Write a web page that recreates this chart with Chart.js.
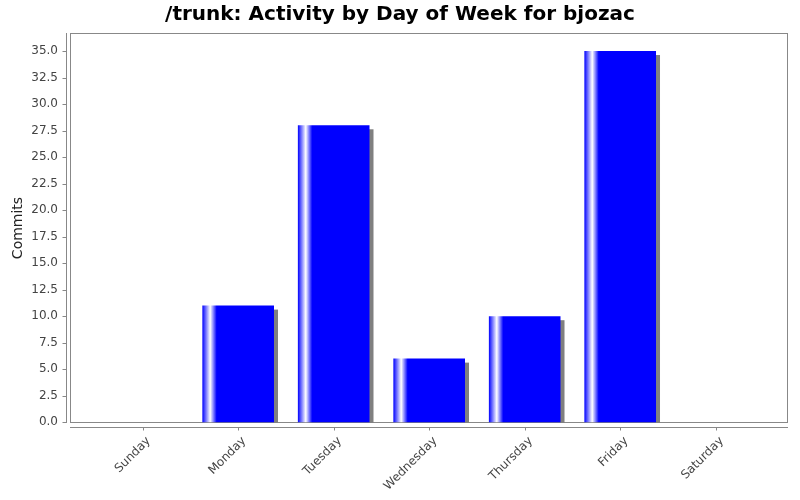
<!DOCTYPE html>
<html>
<head>
<meta charset="utf-8">
<script src="https://cdn.jsdelivr.net/npm/chart.js@4"></script>
<style>
body { margin: 0; background: #fff; }
</style>
</head>
<body>
<canvas id="dayGraph" width="800" height="500"></canvas>
<script>
let days = ['Sunday', 'Monday', 'Tuesday', 'Wednesday', 'Thursday', 'Friday', 'Saturday'];
let commits = [0, 11, 28, 6, 10, 35, 0];
let yTicks = [0, 2.5, 5, 7.5, 10, 12.5, 15, 17.5, 20, 22.5, 25, 27.5, 30, 32.5, 35];

const barPct = 0.75;
const lineColor = '#888888';

// plot frame, bar shadows and offset axis lines (jfreechart look)
const plotFrame = {
    id: 'plotFrame',
    beforeDatasetsDraw(chart) {
        const {ctx, chartArea: a} = chart;
        ctx.save();
        ctx.strokeStyle = lineColor;
        ctx.lineWidth = 1;
        ctx.strokeRect(a.left + 0.5, a.top + 0.5, a.right - a.left - 1, a.bottom - a.top - 1);
        ctx.beginPath();
        ctx.rect(a.left, a.top, a.right - a.left, a.bottom - a.top);
        ctx.clip();
        ctx.fillStyle = '#808080';
        chart.getDatasetMeta(0).data.forEach(bar => {
            if (bar.base - bar.y < 1) return;
            ctx.fillRect(bar.x - bar.width / 2 + 4, bar.y + 4, bar.width, bar.base - bar.y);
        });
        ctx.restore();
    },
    afterDraw(chart) {
        const {ctx, chartArea: a, scales} = chart;
        ctx.save();
        ctx.strokeStyle = lineColor;
        ctx.lineWidth = 1;
        ctx.beginPath();
        // y axis
        const ax = a.left - 3.5;
        ctx.moveTo(ax, a.top);
        ctx.lineTo(ax, a.bottom);
        yTicks.forEach(v => {
            const py = Math.round(scales.y.getPixelForValue(v)) + 0.5;
            ctx.moveTo(ax - 4, py);
            ctx.lineTo(ax, py);
        });
        // x axis
        const ay = a.bottom + 4.5;
        ctx.moveTo(a.left, ay);
        ctx.lineTo(a.right, ay);
        days.forEach((d, i) => {
            const px = Math.round(scales.x.getPixelForValue(i)) + 0.5;
            ctx.moveTo(px, ay);
            ctx.lineTo(px, ay + 3);
        });
        ctx.stroke();
        ctx.restore();
    }
};

function barFill(c) {
    const chart = c.chart;
    const xs = chart.scales.x;
    if (!xs || !chart.chartArea || c.dataIndex === undefined) return '#0000ff';
    const cx = xs.getPixelForValue(c.dataIndex);
    const w = (xs.getPixelForValue(1) - xs.getPixelForValue(0)) * barPct;
    const g = chart.ctx.createLinearGradient(cx - w / 2, 0, cx + w / 2, 0);
    g.addColorStop(0, '#0000ff');
    g.addColorStop(0.11, '#ffffff');
    g.addColorStop(0.2, '#0000ff');
    g.addColorStop(1, '#0000ff');
    return g;
}

let dayChart = document.getElementById('dayGraph');

new Chart(dayChart, {
    type: 'bar',
    data: {
        datasets: [{
            label: 'Commits',
            data: days.map((d, i) => ({x: i, y: commits[i]})),
            backgroundColor: barFill,
            borderWidth: 0,
            barPercentage: barPct,
            categoryPercentage: 1
        }]
    },
    options: {
        responsive: false,
        animation: false,
        layout: {
            padding: {left: 12, right: 12, top: 0, bottom: 0}
        },
        scales: {
            x: {
                type: 'linear',
                offset: false,
                min: -0.761,
                max: 6.757,
                grid: {display: false, drawTicks: false, offset: false},
                border: {display: false},
                afterBuildTicks: s => { s.ticks = days.map((d, i) => ({value: i})); },
                afterFit: s => { s.height = 77; },
                ticks: {
                    autoSkip: false,
                    minRotation: 45,
                    maxRotation: 45,
                    padding: 11,
                    labelOffset: 6,
                    color: '#444',
                    font: {family: 'DejaVu Sans', size: 12},
                    callback: v => days[v]
                }
            },
            y: {
                min: -0.07,
                max: 36.7,
                grid: {display: false, drawTicks: false},
                border: {display: false},
                afterBuildTicks: s => { s.ticks = yTicks.map(v => ({value: v})); },
                afterFit: s => { s.width = 58; },
                ticks: {
                    padding: 12,
                    color: '#444',
                    font: {family: 'DejaVu Sans', size: 12},
                    callback: v => v.toFixed(1)
                },
                title: {
                    display: true,
                    text: 'Commits',
                    color: '#222',
                    font: {family: 'DejaVu Sans', size: 14},
                    padding: {top: -2, bottom: 0}
                }
            }
        },
        plugins: {
            legend: {display: false},
            tooltip: {enabled: false},
            title: {
                display: true,
                text: '/trunk: Activity by Day of Week for bjozac',
                color: '#000',
                font: {family: 'DejaVu Sans', size: 20, weight: 'bold'},
                padding: {top: 3, bottom: 6}
            }
        }
    },
    plugins: [plotFrame]
});
</script>
</body>
</html>
